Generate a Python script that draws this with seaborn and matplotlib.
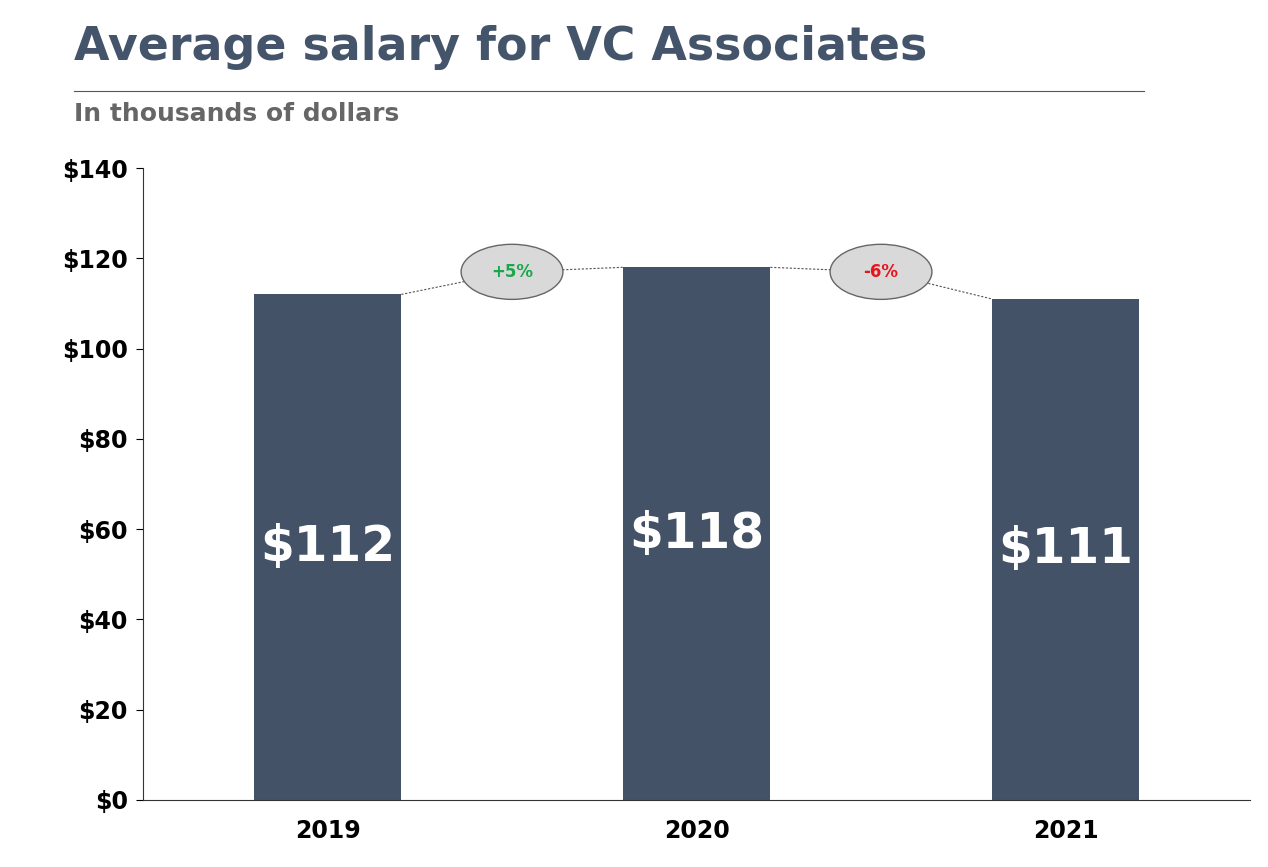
import matplotlib
matplotlib.use("Agg")
import matplotlib.pyplot as plt
from matplotlib.patches import Ellipse
import seaborn as sns

years = ["2019", "2020", "2021"]
salaries = [112, 118, 111]
changes = ["+5%", "-6%"]
change_colors = ["#1aa64a", "#e8141c"]
y_ticks = [0, 20, 40, 60, 80, 100, 120, 140]

bar_color = "#435266"
title_color = "#44546a"

fig = plt.figure(figsize=(12.68, 8.67), dpi=100)
ax = fig.add_axes([0.1128, 0.0773, 0.873, 0.7289])

sns.barplot(x=years, y=salaries, color=bar_color, width=0.4, ax=ax, saturation=1)

ax.set_xlim(-0.5, 2.5)
ax.set_ylim(0, 140)
ax.set_yticks(y_ticks)
ax.set_yticklabels([f"${v}" for v in y_ticks], fontsize=17, fontweight="bold")
ax.set_xticklabels(years, fontsize=17, fontweight="bold")
ax.tick_params(axis="x", length=0, pad=14)
ax.tick_params(axis="y", length=5, pad=6)
ax.set_xlabel("")
ax.set_ylabel("")
for s in ["top", "right"]:
    ax.spines[s].set_visible(False)
for s in ["left", "bottom"]:
    ax.spines[s].set_color("#333333")

# value labels inside bars
for i, v in enumerate(salaries):
    ax.text(i, v / 2, f"${v}", ha="center", va="center", color="white",
            fontsize=35, fontweight="bold")

# change bubbles between bars
for i, (lab, col) in enumerate(zip(changes, change_colors)):
    cx = i + 0.5
    cy = 117
    ax.plot([i + 0.2, cx, i + 0.8], [salaries[i], cy, salaries[i + 1]],
            color="#555555", linestyle=(0, (2, 1.5)), linewidth=0.8, zorder=3)
    ax.add_patch(Ellipse((cx, cy), 0.276, 12.2, facecolor="#d9d9d9",
                         edgecolor="#666666", linewidth=1, zorder=4))
    ax.text(cx, cy, lab, ha="center", va="center", color=col,
            fontsize=12, fontweight="bold", zorder=5)

fig.text(0.058, 0.945, "Average salary for VC Associates", color=title_color,
         fontsize=33, fontweight="bold", va="center")
fig.add_artist(plt.Line2D([0.058, 0.902], [0.895, 0.895], color="#555555", linewidth=0.8))
fig.text(0.058, 0.868, "In thousands of dollars", color="#666666",
         fontsize=18, fontweight="bold", va="center")

fig.savefig("out.png", dpi=100)
